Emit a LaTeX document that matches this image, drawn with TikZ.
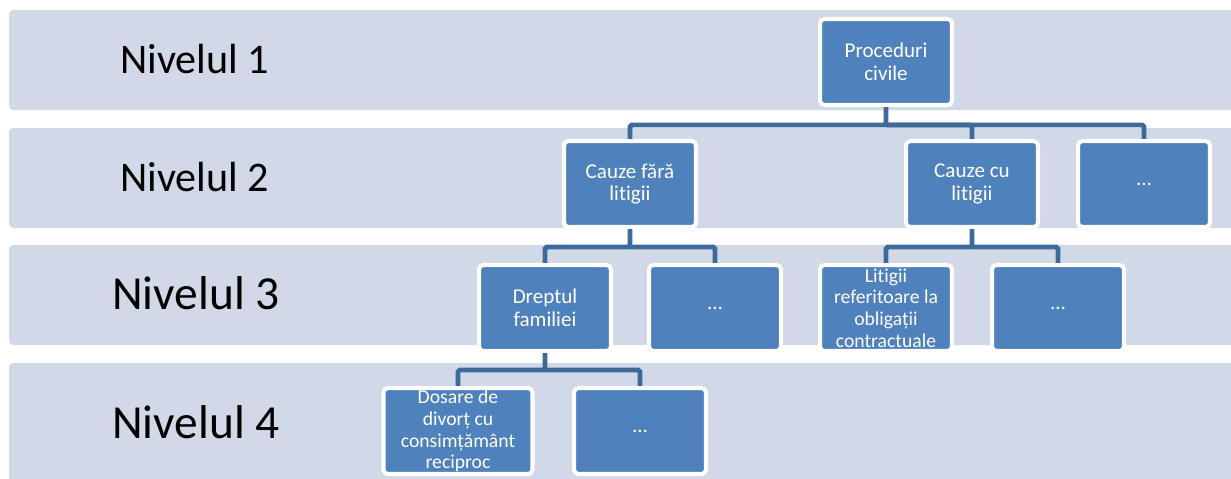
\documentclass[tikz,border=0pt]{standalone}
\usepackage{fontspec}
\setmainfont{Carlito}[Ligatures=NoCommon]
\usepackage{tikz}
\definecolor{bandgray}{HTML}{D1D8E8}
\definecolor{boxblue}{HTML}{4F81BD}
\definecolor{linkblue}{HTML}{3E6A9A}

\begin{document}
\begin{tikzpicture}[x=0.02cm, y=-0.02cm,
    band/.style={fill=bandgray, draw=none, rounded corners=2.5pt},
    levelnode/.style={anchor=base west, inner sep=0pt, font=\fontsize{24}{28}\selectfont},
    bignode/.style={levelnode, font=\fontsize{27}{31}\selectfont},
    boxnode/.style={rectangle, rounded corners=2.5pt, fill=boxblue, draw=white, line width=2.3pt,
        minimum width=2.64cm, minimum height=1.72cm, inner sep=0pt, align=center, text=white,
        font=\fontsize{12}{13}\selectfont},
    longnode/.style={boxnode, font=\fontsize{11.2}{12.3}\selectfont},
    link/.style={draw=linkblue, line width=2.8pt, rounded corners=1pt}
    ]
    \clip (0,0) rectangle (1231,478);

    % bands
    \fill [band] (9,10) rectangle (1245,110);
    \fill [band] (9,128) rectangle (1245,228);
    \fill [band] (9,245) rectangle (1245,345);
    \fill [band] (9,363) rectangle (1245,495);

    \node [levelnode] (n1) at (120,73) {Nivelul 1};
    \node [levelnode] (n2) at (120,191) {Nivelul 2};
    \node [bignode] (n3) at (112,309) {Nivelul 3};
    \node [bignode] (n4) at (112,438) {Nivelul 4};

    % level 1 and 2
    \node [boxnode] (proc) at (886,62) {Proceduri\\civile};
    \node [boxnode] (fara) at (630,184) {Cauze fără\\litigii};
    \node [boxnode] (cu) at (972,184) {Cauze cu\\litigii};
    \node [boxnode] (etc2) at (1144,184) {...};

    % level 3
    \node [boxnode] (drept) at (545,308) {Dreptul\\familiei};
    \node [boxnode] (etc3a) at (715,308) {...};
    \node [longnode] (litigii) at (886,308) {Litigii\\referitoare la\\obligații\\contractuale};
    \node [boxnode] (etc3b) at (1058,308) {...};

    % level 4
    \node [longnode,minimum width=2.98cm] (dosare) at (458,431) {Dosare de\\divorț cu\\consimțământ\\reciproc};
    \node [boxnode] (etc4) at (640,431) {...};

    \coordinate (j1) at (886,125);
    \coordinate (j2) at (630,247);
    \coordinate (j3) at (972,247);
    \coordinate (j4) at (545,370);

    \draw [link] (proc) -- (j1) -| (fara);
    \draw [link] (j1) -| (cu);
    \draw [link] (j1) -| (etc2);

    \draw [link] (fara) -- (j2) -| (drept);
    \draw [link] (j2) -| (etc3a);
    \draw [link] (cu) -- (j3) -| (litigii);
    \draw [link] (j3) -| (etc3b);

    \draw [link] (drept) -- (j4) -| (dosare);
    \draw [link] (j4) -| (etc4);
\end{tikzpicture}
\end{document}
